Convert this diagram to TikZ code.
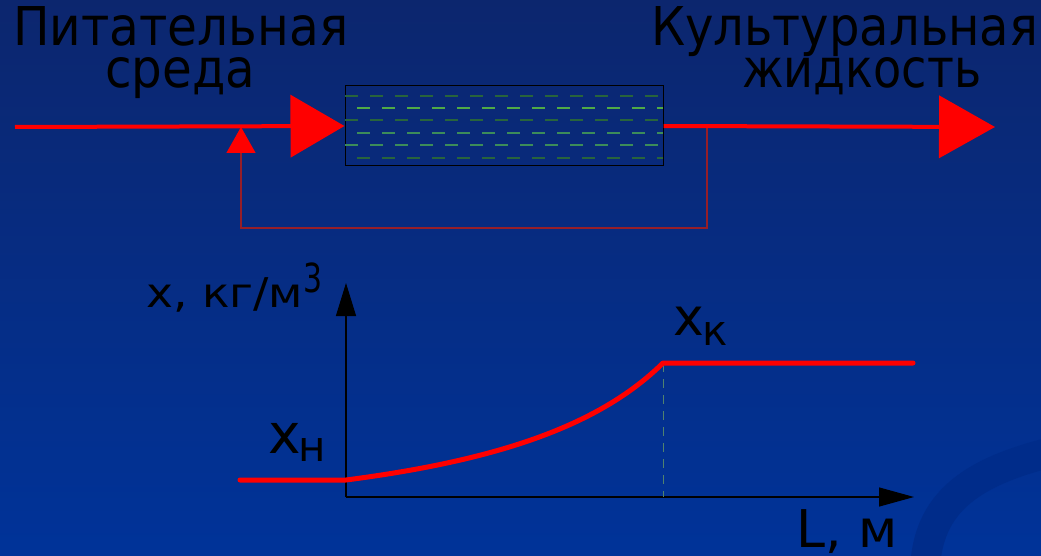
\documentclass[tikz,border=0pt]{standalone}
\usepackage{fontspec}
\setmainfont{DejaVu Sans}
\usetikzlibrary{arrows.meta}
\definecolor{bgtop}{RGB}{12,38,110}
\definecolor{bgmid}{RGB}{3,47,140}
\definecolor{bgbot}{RGB}{0,51,153}
\definecolor{swoosh}{RGB}{0,44,138}
\definecolor{fbred}{RGB}{150,30,40}
\definecolor{gdark}{RGB}{40,100,60}
\definecolor{glight}{RGB}{80,170,70}
\definecolor{gmid}{RGB}{60,140,90}
\definecolor{dashgrey}{RGB}{80,130,110}
\newcommand{\nodepth}[1]{\raisebox{0pt}[\height][0pt]{#1}}
\tikzset{
  lbl/.style={inner sep=0pt, anchor=base west, text=black},
  redline/.style={draw=red, line width=4pt},
  fbline/.style={draw=fbred, line width=1.3pt},
  axisline/.style={draw=black, line width=1.2pt},
  curveline/.style={draw=red, line width=5pt, line cap=round, line join=round},
  vessel/.style={draw=black, line width=1pt, minimum width=318pt, minimum height=80pt, inner sep=0pt},
  liquid/.style={line width=1.3pt, dash pattern=on 13pt off 12pt},
}
\begin{document}
\begin{tikzpicture}[x=1pt,y=-1pt]
\shade[top color=bgtop, middle color=bgmid, bottom color=bgbot] (0,0) rectangle (1041,556);
\useasboundingbox (0,0) rectangle (1041,556);
% background swoosh
\draw[swoosh, line width=30pt] (925,575) .. controls (925,500) and (975,470) .. (1060,450);

% titles
\node[lbl] (t1) at (13,46) {\fontsize{53.5}{60}\selectfont\nodepth{\resizebox{335pt}{\height}{Питательная}}};
\node[lbl] (t2) at (105,88) {\fontsize{53.5}{60}\selectfont\resizebox{150pt}{\height}{среда}};
\node[lbl] (t3) at (651,46) {\fontsize{53.5}{60}\selectfont\nodepth{\resizebox{387pt}{\height}{Культуральная}}};
\node[lbl] (t4) at (742,88) {\fontsize{53.5}{60}\selectfont\resizebox{239pt}{\height}{жидкость}};

% vessel
\node[vessel] (reactor) at (504,126) {};
\foreach \y/\c/\s in {96/gdark/345, 108/glight/357, 120/gdark/345, 133/gmid/357, 145/gmid/345, 158/gdark/357}
  \draw[liquid, \c] (\s,\y) -- (663,\y);

\coordinate (feedin) at (15,127);
\coordinate (feedout) at (995,127);
\coordinate (tap) at (707,127);
\coordinate (ret) at (241,127);

\draw[fbline, -{Triangle[length=26pt,width=29pt,color=red]}] (tap) -- ++(0,101) -| (ret);
\draw[redline, -{Triangle[length=54pt,width=62pt]}] (feedin) -- (reactor.west);
\draw[redline, -{Triangle[length=56pt,width=62pt]}] (reactor.east) -- (feedout);

% graph
\coordinate (O) at (346,497);
\coordinate (ytop) at (346,283);
\coordinate (xend) at (914,497);
\draw[axisline, -{Triangle[length=33pt,width=20pt]}] (O) -- (ytop);
\draw[axisline, -{Triangle[length=35pt,width=19pt]}] (O) -- (xend);

\coordinate (c0) at (240,480);
\coordinate (c1) at (346,480);
\coordinate (c2) at (663,363);
\coordinate (c3) at (913,363);
\draw[dashgrey, line width=1pt, dash pattern=on 9pt off 7pt] (c2) -- (c2 |- O);
\draw[curveline] (c0) -- (c1) .. controls (500,460) and (600,425) .. (c2) -- (c3);

% labels
\node[lbl] (ylab) at (146,307) {\fontsize{41}{44}\selectfont\resizebox{157pt}{\height}{x, кг/м}};
\node[lbl] (ylab3) at (303,292) {\fontsize{40}{44}\selectfont\nodepth{\resizebox{19pt}{\height}{3}}};
\node[lbl] (xn) at (268,453) {\fontsize{55}{60}\selectfont x};
\node[lbl] (xnsub) at (298,461) {\fontsize{42}{46}\selectfont н};
\node[lbl] (xk) at (673,335) {\fontsize{52}{58}\selectfont x};
\node[lbl] (xksub) at (702,345) {\fontsize{42}{46}\selectfont к};
\node[lbl] (xlab) at (796,547) {\fontsize{52}{58}\selectfont\nodepth{L, м}};
\end{tikzpicture}
\end{document}
